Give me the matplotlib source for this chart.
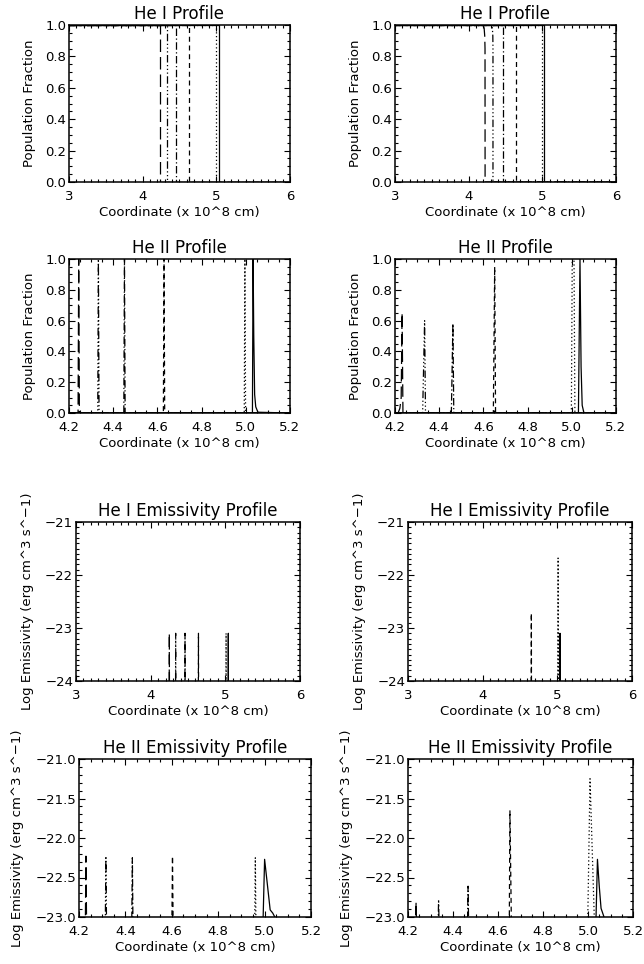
import numpy as np
import matplotlib.pyplot as plt
from matplotlib.ticker import MultipleLocator, FormatStrFormatter

# IDL line styles 0..5: solid, dotted, dashed, dash-dot, dash-dot-dot-dot, long dashes
styles = ['-', (0, (1, 2)), (0, (4, 3)), (0, (6, 2, 1, 2)),
          (0, (6, 2, 1, 2, 1, 2, 1, 2)), (0, (10, 4))]

# He I population fraction (left / right)
hei_pop_l_x = [[3, 5.03, 5.03, 6], [3, 5.0, 5.0, 6], [3, 4.63, 4.63, 6],
               [3, 4.45, 4.45, 6], [3, 4.33, 4.33, 6], [3, 4.24, 4.24, 6]]
hei_pop_l_y = [[1, 1, 0, 0]] * 6
hei_pop_r_x = [[3, 5.02, 5.02, 6], [3, 5.0, 5.0, 6], [3, 4.645, 4.645, 6],
               [3, 4.46, 4.46, 6],
               [3, 4.31, 4.322, 4.328, 4.33, 4.33, 6],
               [3, 4.195, 4.21, 4.218, 4.222, 4.223, 6]]
hei_pop_r_y = [[1, 1, 0, 0], [1, 1, 0, 0], [1, 1, 0, 0], [1, 1, 0, 0],
               [1, 1, 0.98, 0.93, 0.85, 0, 0],
               [1, 1, 0.98, 0.93, 0.85, 0, 0]]

# He II population fraction
heii_pop_l_x = [[4.2, 5.03, 5.033, 5.036, 5.04, 5.045, 5.055, 5.2],
                [4.2, 4.993, 4.996, 4.999, 5.2],
                [4.2, 4.627, 4.63, 4.633, 5.2],
                [4.2, 4.448, 4.451, 4.454, 5.2],
                [4.2, 4.330, 4.333, 4.336, 5.2],
                [4.2, 4.241, 4.244, 4.247, 5.2]]
heii_pop_l_y = [[0, 0, 1, 0.5, 0.12, 0.04, 0.005, 0],
                [0, 0, 1, 0, 0], [0, 0, 1, 0, 0], [0, 0, 1, 0, 0],
                [0, 0, 1, 0, 0], [0, 0, 1, 0, 0]]
heii_pop_r_x = [[4.2, 5.03, 5.037, 5.042, 5.047, 5.055, 5.2],
                [4.2, 4.998, 5.002, 5.010, 5.014, 5.2],
                [4.2, 4.645, 4.651, 4.655, 5.2],
                [4.2, 4.455, 4.462, 4.466, 5.2],
                [4.2, 4.325, 4.334, 4.338, 5.2],
                [4.2, 4.214, 4.222, 4.228, 4.232, 4.236, 5.2]]
heii_pop_r_y = [[0, 0, 1.0, 0.3, 0.05, 0, 0],
                [0, 0, 1.0, 1.0, 0, 0],
                [0, 0, 0.95, 0, 0],
                [0, 0, 0.58, 0, 0],
                [0, 0, 0.60, 0, 0],
                [0, 0, 0.03, 0.1, 0.65, 0, 0]]

# He I log emissivity
hei_em_l_x = [[5.036, 5.04, 5.044], [5.006, 5.01, 5.014], [4.636, 4.64, 4.644],
              [4.456, 4.46, 4.464], [4.331, 4.335, 4.339], [4.246, 4.25, 4.254]]
hei_em_l_y = [[-26, -23.1, -26]] * 6
hei_em_r_x = [[5.032, 5.036, 5.04], [5.006, 5.01, 5.014], [4.648, 4.652, 4.656]]
hei_em_r_y = [[-26, -23.1, -26], [-26, -21.68, -26], [-26, -22.72, -26]]

# He II log emissivity
heii_em_l_x = [[4.992, 5.0, 5.024, 5.035, 5.044],
               [4.957, 4.96, 4.963], [4.600, 4.603, 4.606],
               [4.427, 4.43, 4.433], [4.313, 4.316, 4.319], [4.227, 4.23, 4.233]]
heii_em_l_y = [[-23.2, -22.27, -22.91, -22.95, -23.0],
               [-23.2, -22.25, -23.2], [-23.2, -22.23, -23.2],
               [-23.2, -22.25, -23.2], [-23.2, -22.23, -23.2], [-23.2, -22.23, -23.2]]
heii_em_r_x = [[5.034, 5.042, 5.05, 5.058, 5.07, 5.08],
               [4.998, 5.009, 5.03],
               [4.650, 4.653, 4.660],
               [4.464, 4.467, 4.470], [4.333, 4.336, 4.339], [4.233, 4.236, 4.239]]
heii_em_r_y = [[-23.2, -22.27, -22.61, -22.89, -22.99, -23.1],
               [-23.2, -21.25, -23.2],
               [-23.2, -21.65, -23.2],
               [-23.2, -22.61, -23.2], [-23.2, -22.78, -23.2], [-23.2, -22.81, -23.2]]

xlabel = 'Coordinate (x 10^8 cm)'
ylab_pop = 'Population Fraction'
ylab_em = 'Log Emissivity (erg cm^3 s^\u22121)'

# pixel frames: left, right, top, bottom
frames = [(69, 290, 25, 182), (395, 616, 25, 182),
          (69, 290, 259, 413), (395, 616, 259, 413),
          (76, 300, 522, 681), (408, 632, 522, 681),
          (79, 311, 759, 917), (408, 633, 759, 917)]

panels = [
    ('He I Profile', hei_pop_l_x, hei_pop_l_y, (3, 6), (0, 1), 'pop1'),
    ('He I Profile', hei_pop_r_x, hei_pop_r_y, (3, 6), (0, 1), 'pop1'),
    ('He II Profile', heii_pop_l_x, heii_pop_l_y, (4.2, 5.2), (0, 1), 'pop2'),
    ('He II Profile', heii_pop_r_x, heii_pop_r_y, (4.2, 5.2), (0, 1), 'pop2'),
    ('He I Emissivity Profile', hei_em_l_x, hei_em_l_y, (3, 6), (-24, -21), 'em1'),
    ('He I Emissivity Profile', hei_em_r_x, hei_em_r_y, (3, 6), (-24, -21), 'em1'),
    ('He II Emissivity Profile', heii_em_l_x, heii_em_l_y, (4.2, 5.2), (-23, -21), 'em2'),
    ('He II Emissivity Profile', heii_em_r_x, heii_em_r_y, (4.2, 5.2), (-23, -21), 'em2'),
]

fig = plt.figure(figsize=(6.44, 9.64), dpi=100)
W, H = 644, 964

for (title, xs, ys, xl, yl, kind), (l, r, t, b) in zip(panels, frames):
    ax = fig.add_axes([l / W, 1 - b / H, (r - l) / W, (b - t) / H])
    for i, (x, y) in enumerate(zip(xs, ys)):
        ax.plot(x, y, color='black', lw=0.9, linestyle=styles[i])
    ax.set_xlim(*xl)
    ax.set_ylim(*yl)
    if xl[0] == 3:
        ax.xaxis.set_major_locator(MultipleLocator(1))
        ax.xaxis.set_minor_locator(MultipleLocator(0.1))
        ax.xaxis.set_major_formatter(FormatStrFormatter('%d'))
    else:
        ax.xaxis.set_major_locator(MultipleLocator(0.2))
        ax.xaxis.set_minor_locator(MultipleLocator(0.05))
        ax.xaxis.set_major_formatter(FormatStrFormatter('%.1f'))
    if kind.startswith('pop'):
        ax.yaxis.set_major_locator(MultipleLocator(0.2))
        ax.yaxis.set_minor_locator(MultipleLocator(0.05))
        ax.yaxis.set_major_formatter(FormatStrFormatter('%.1f'))
        ax.set_ylabel(ylab_pop, fontsize=9.5, labelpad=7)
    elif kind == 'em1':
        ax.yaxis.set_major_locator(MultipleLocator(1))
        ax.yaxis.set_minor_locator(MultipleLocator(0.1))
        ax.set_yticks([-24, -23, -22, -21])
        ax.set_yticklabels(['\u221224', '\u221223', '\u221222', '\u221221'])
        ax.set_ylabel(ylab_em, fontsize=9.5, labelpad=8)
    else:
        ax.yaxis.set_major_locator(MultipleLocator(0.5))
        ax.yaxis.set_minor_locator(MultipleLocator(0.1))
        ax.set_yticks([-23.0, -22.5, -22.0, -21.5, -21.0])
        ax.set_yticklabels(['\u221223.0', '\u221222.5', '\u221222.0', '\u221221.5', '\u221221.0'])
        ax.set_ylabel(ylab_em, fontsize=9.5, labelpad=8)
    ax.set_xlabel(xlabel, fontsize=9.5, labelpad=2)
    ax.set_title(title, fontsize=12, pad=4)
    ax.tick_params(which='both', direction='in', top=True, right=True,
                   labelsize=9.5, width=0.8)
    ax.tick_params(axis='x', which='both', pad=6)
    ax.tick_params(axis='y', which='both', pad=2)
    ax.tick_params(which='major', length=4.5)
    ax.tick_params(which='minor', length=2.2)
    for s in ax.spines.values():
        s.set_linewidth(1.1)

plt.savefig('out.png', dpi=100)
